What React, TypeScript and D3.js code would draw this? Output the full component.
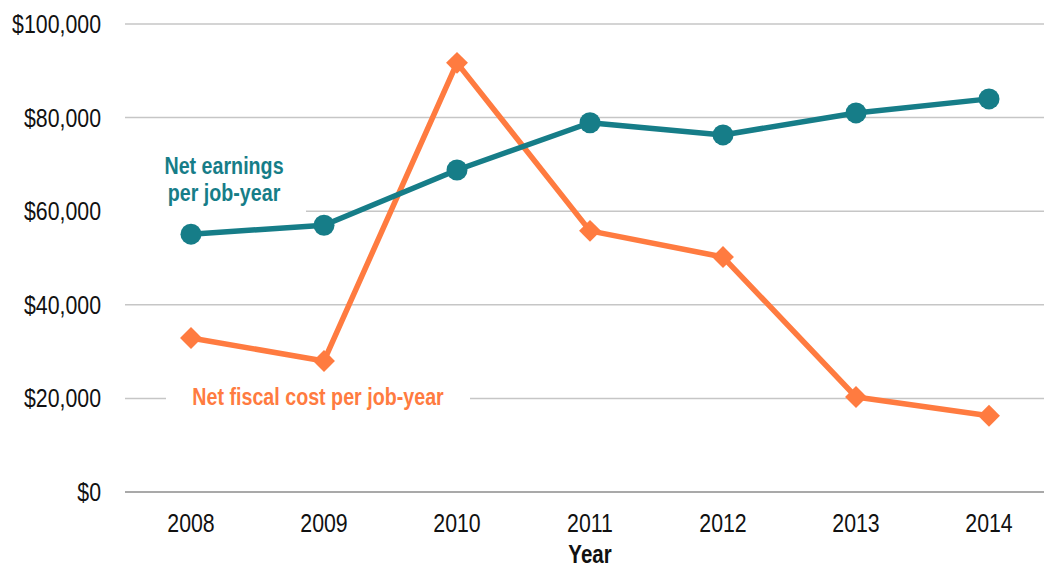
import React, { useEffect, useRef } from 'react';
import * as d3 from 'd3';

const years = ['2008', '2009', '2010', '2011', '2012', '2013', '2014'];
const netEarnings = [55100, 57000, 68800, 78900, 76300, 81000, 84000];
const netFiscalCost = [32900, 28000, 91700, 55800, 50200, 20300, 16300];
const yTicks = [0, 20000, 40000, 60000, 80000, 100000];

const TEAL = '#167d88';
const ORANGE = '#ff7b40';
// no Arial Narrow here, so squeeze Liberation Sans horizontally
const FONT = '"Liberation Sans", Arial, sans-serif';
const SQUEEZE = 0.82;

const App: React.FC = () => {
  const svgRef = useRef<SVGSVGElement>(null);

  useEffect(() => {
    const svg = d3.select(svgRef.current);
    svg.selectAll('*').remove();

    const x = d3.scalePoint<string>().domain(years).range([191, 989]);
    const y = d3.scaleLinear().domain([0, 100000]).range([492, 24]);
    const fmt = (v: number) => '$' + d3.format(',')(v);

    const label = (px: number, py: number, txt: string, anchor: string, size: number, color: string, bold = false) =>
      svg.append('text')
        .attr('transform', `translate(${px},${py}) scale(${SQUEEZE},1)`)
        .attr('text-anchor', anchor)
        .attr('font-family', FONT)
        .attr('font-size', size)
        .attr('font-weight', bold ? 'bold' : 'normal')
        .attr('fill', color)
        .text(txt);

    // gridlines
    svg.append('g')
      .selectAll('line')
      .data(yTicks.filter(t => t > 0))
      .enter().append('line')
      .attr('x1', 125)
      .attr('x2', 1044)
      .attr('y1', d => y(d))
      .attr('y2', d => y(d))
      .attr('stroke', '#c6c6c6')
      .attr('stroke-width', 1.5);

    // zero axis
    svg.append('line')
      .attr('x1', 125)
      .attr('x2', 1044)
      .attr('y1', y(0))
      .attr('y2', y(0))
      .attr('stroke', '#8c8c8c')
      .attr('stroke-width', 1.5);

    // y tick labels
    yTicks.forEach(t => label(101, y(t) + 9, fmt(t), 'end', 26, '#111'));

    // x tick labels
    years.forEach(yr => label(x(yr)!, 532, yr, 'middle', 26, '#111'));

    label(590, 563, 'Year', 'middle', 25, '#111', true);

    // series label backgrounds
    svg.append('rect')
      .attr('x', 120).attr('y', 150).attr('width', 186).attr('height', 66)
      .attr('fill', 'white');
    svg.append('rect')
      .attr('x', 166).attr('y', 380).attr('width', 304).attr('height', 34)
      .attr('fill', 'white');

    const line = d3.line<number>()
      .x((_d, i) => x(years[i])!)
      .y(d => y(d));

    // fiscal cost series
    svg.append('path')
      .datum(netFiscalCost)
      .attr('fill', 'none')
      .attr('stroke', ORANGE)
      .attr('stroke-width', 5.5)
      .attr('stroke-linejoin', 'round')
      .attr('d', line);

    const diamond = d3.symbol().type(d3.symbolSquare).size(240);
    svg.append('g')
      .selectAll('path')
      .data(netFiscalCost)
      .enter().append('path')
      .attr('d', diamond as any)
      .attr('transform', (d, i) => `translate(${x(years[i])},${y(d)}) rotate(45)`)
      .attr('fill', ORANGE);

    // earnings series
    svg.append('path')
      .datum(netEarnings)
      .attr('fill', 'none')
      .attr('stroke', TEAL)
      .attr('stroke-width', 5.5)
      .attr('stroke-linejoin', 'round')
      .attr('d', line);

    svg.append('g')
      .selectAll('circle')
      .data(netEarnings)
      .enter().append('circle')
      .attr('cx', (_d, i) => x(years[i])!)
      .attr('cy', d => y(d))
      .attr('r', 10.5)
      .attr('fill', TEAL);

    // series labels
    label(224, 174, 'Net earnings', 'middle', 24, TEAL, true);
    label(224, 201, 'per job-year', 'middle', 24, TEAL, true);
    label(318, 405, 'Net fiscal cost per job-year', 'middle', 24, ORANGE, true);
  }, []);

  return (
    <svg
      ref={svgRef}
      width={1044}
      height={569}
      style={{ position: 'absolute', left: 0, top: 0, background: 'white' }}
    />
  );
};

export default App;
